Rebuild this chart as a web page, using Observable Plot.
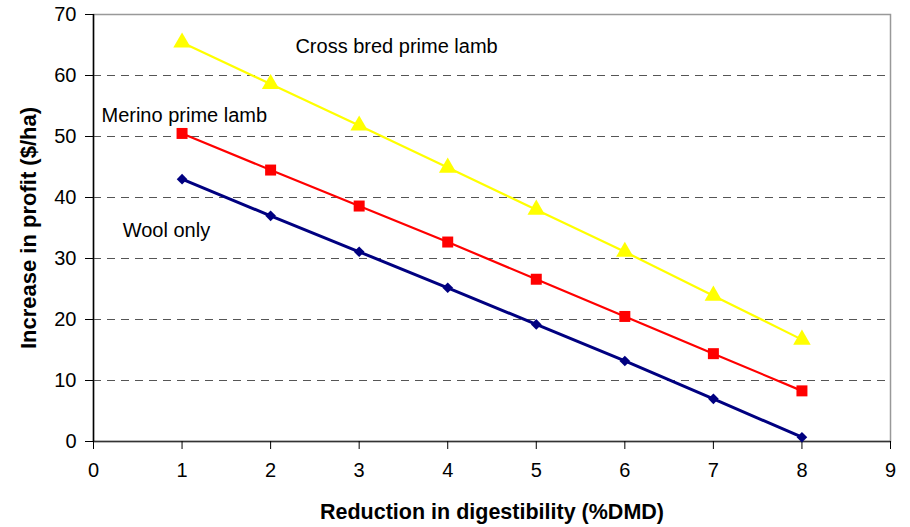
<!DOCTYPE html>
<html>
<head>
<meta charset="utf-8">
<script src="https://cdn.jsdelivr.net/npm/d3@7"></script>
<script src="https://cdn.jsdelivr.net/npm/@observablehq/plot@0.6"></script>
<style>
  html, body { margin: 0; padding: 0; background: #fff; }
  #chart svg { display: block; }
</style>
</head>
<body>
<div id="chart"></div>
<script>
const reduction = [1, 2, 3, 4, 5, 6, 7, 8];
const crossBred = [65.4, 58.6, 51.8, 44.9, 38.0, 31.1, 23.9, 16.7];
const merino = [50.5, 44.5, 38.6, 32.7, 26.6, 20.5, 14.4, 8.3];
const woolOnly = [43.0, 37.0, 31.1, 25.2, 19.2, 13.2, 7.0, 0.7];
const seriesNames = ["Cross bred prime lamb", "Merino prime lamb", "Wool only"];
const xTicks = [0, 1, 2, 3, 4, 5, 6, 7, 8, 9];
const yTicks = [0, 10, 20, 30, 40, 50, 60, 70];
const gridValues = [10, 20, 30, 40, 50, 60];
const labelPos = [
  {name: "Cross bred prime lamb", x: 2.28, y: 64.7},
  {name: "Merino prime lamb", x: 0.09, y: 53.4},
  {name: "Wool only", x: 0.33, y: 34.6}
];

const rows = [];
const allVals = [crossBred, merino, woolOnly];
seriesNames.forEach((s, i) => reduction.forEach((x, j) => rows.push({series: s, x, y: allVals[i][j]})));
const colors = {"Cross bred prime lamb": "#ffff00", "Merino prime lamb": "#ff0000", "Wool only": "#000080"};
const bySeries = s => rows.filter(d => d.series === s);

const chart = Plot.plot({
  width: 910,
  height: 527,
  marginLeft: 93,
  marginRight: 20,
  marginTop: 14,
  marginBottom: 86,
  style: {fontFamily: "'Liberation Sans', Arial, sans-serif", fontSize: "20px", color: "#000", background: "#fff"},
  x: {domain: [0, 9]},
  y: {domain: [0, 70]},
  marks: [
    Plot.ruleY(gridValues, {stroke: "#555", strokeWidth: 1.2, strokeDasharray: "8,6"}),
    Plot.frame({stroke: "#999", strokeWidth: 1.5}),
    Plot.ruleY([0], {stroke: "#333", strokeWidth: 1.5}),
    Plot.ruleX([0], {stroke: "#000", strokeWidth: 1.5}),
    Plot.axisY(yTicks, {tickSize: 8, tickPadding: 9, fontSize: 20, label: null}),
    Plot.axisX(xTicks, {tickSize: 8, tickPadding: 13, fontSize: 20, label: null}),
    Plot.text(["Increase in profit ($/ha)"], {frameAnchor: "left", textAnchor: "middle", dx: -65, rotate: -90, fontSize: 22, fontWeight: "bold", fill: "#000"}),
    Plot.text(["Reduction in digestibility (%DMD)"], {frameAnchor: "bottom", dy: 77, fontSize: 21.5, fontWeight: "bold", fill: "#000"}),
    Plot.line(bySeries("Cross bred prime lamb"), {x: "x", y: "y", stroke: colors["Cross bred prime lamb"], strokeWidth: 2.2}),
    Plot.line(bySeries("Merino prime lamb"), {x: "x", y: "y", stroke: colors["Merino prime lamb"], strokeWidth: 2.2}),
    Plot.line(bySeries("Wool only"), {x: "x", y: "y", stroke: colors["Wool only"], strokeWidth: 3}),
    Plot.dot(bySeries("Cross bred prime lamb"), {x: "x", y: "y", symbol: "triangle", r: 6.5, fill: colors["Cross bred prime lamb"], stroke: "none"}),
    Plot.dot(bySeries("Merino prime lamb"), {x: "x", y: "y", symbol: "square", r: 6.2, fill: colors["Merino prime lamb"], stroke: "none"}),
    Plot.dot(bySeries("Wool only"), {x: "x", y: "y", symbol: "diamond2", r: 4.8, fill: colors["Wool only"], stroke: "none"}),
    Plot.text(labelPos, {x: "x", y: "y", text: "name", textAnchor: "start", fontSize: 20, fill: "#000"})
  ]
});
document.getElementById("chart").appendChild(chart);
</script>
</body>
</html>
